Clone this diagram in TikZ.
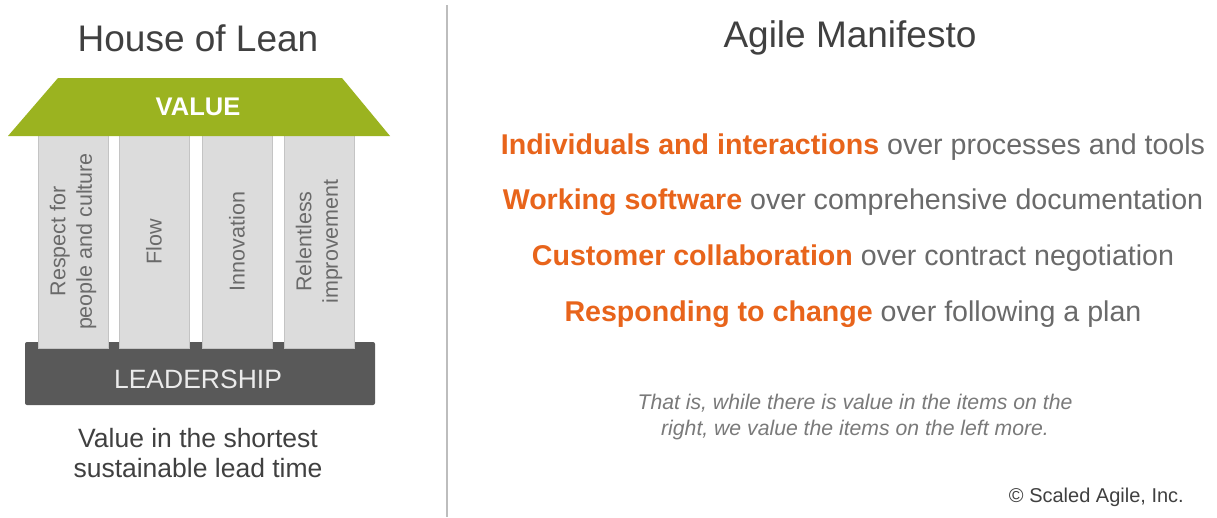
\documentclass[tikz,border=0pt]{standalone}
\usepackage{fontspec}
\setmainfont{Liberation Sans}
\definecolor{roofgreen}{HTML}{9BB320}
\definecolor{pillargray}{HTML}{DCDCDC}
\definecolor{pillaredge}{HTML}{C4C4C4}
\definecolor{basegray}{HTML}{595959}
\definecolor{titlegray}{HTML}{404040}
\definecolor{agorange}{HTML}{E8641B}
\definecolor{txtgray}{HTML}{6A6A6A}
\definecolor{itgray}{HTML}{7A7A7A}
\definecolor{divgray}{HTML}{BDBDBD}
\tikzset{
  title/.style={font=\fontsize{37}{40}\selectfont, text=titlegray, inner sep=0pt},
  pillar/.style={rotate=90, fill=pillargray, draw=pillaredge, line width=1pt,
     minimum width=213pt, minimum height=70pt, inner sep=0pt, align=center,
     text=txtgray, font=\fontsize{21.5}{26.5}\selectfont},
  manline/.style={inner sep=0pt, text=txtgray, font=\fontsize{28.6}{32}\selectfont},
}
\newcommand{\orb}[1]{\textcolor{agorange}{\bfseries #1}}
\begin{document}
\begin{tikzpicture}[x=1pt,y=-1pt]
\useasboundingbox (0,0) rectangle (1217,517);
\fill[white] (0,0) rectangle (1217,517);
% divider
\draw[divgray, line width=1.5pt] (447,5) -- (447,517);
% titles
\node[title] (lean) at (198,38) {House of Lean};
\node[title] (agile) at (850,38) {Agile Manifesto};
% base
\node[fill=basegray, rounded corners=2pt, minimum width=350pt, minimum height=63pt, inner sep=0pt] (lead) at (200,373.5) {};
% pillars
\node[pillar] (p1) at (73,241.5) {Respect for\\people and culture};
\node[pillar] (p2) at (154,241.5) {Flow};
\node[pillar] (p3) at (237,241.5) {Innovation};
\node[pillar] (p4) at (319,241.5) {Relentless\\improvement};
\node[inner sep=0pt, text=white!92!black, font=\fontsize{26.5}{30}\selectfont] (leadtxt) at (198,379) {LEADERSHIP};
% roof
\fill[roofgreen] (58,78) -- (342,78) -- (390,136) -- (8,136) -- cycle;
\node[inner sep=0pt, text=white, font=\fontsize{25.5}{28}\bfseries\selectfont] (value) at (198,107) {VALUE};
% caption
\node[inner sep=0pt, align=center, text=titlegray, font=\fontsize{26.5}{30}\selectfont] (cap) at (198,453) {Value in the shortest\\sustainable lead time};
% manifesto
\node[manline] (m1) at (853,147) {\orb{Individuals and interactions} over processes and tools};
\node[manline] (m2) at (853,202.5) {\orb{Working software} over comprehensive documentation};
\node[manline] (m3) at (853,258.5) {\orb{Customer collaboration} over contract negotiation};
\node[manline] (m4) at (853,314.5) {\orb{Responding to change} over following a plan};
\node[inner sep=0pt, align=center, text=itgray, font=\fontsize{21.2}{26}\itshape\selectfont] (note) at (855,417) {That is, while there is value in the items on the\\right, we value the items on the left more.};
\node[inner sep=0pt, anchor=east, text=titlegray, font=\fontsize{20}{22}\selectfont] (copy) at (1184,497) {© Scaled Agile, Inc.};
\end{tikzpicture}
\end{document}
